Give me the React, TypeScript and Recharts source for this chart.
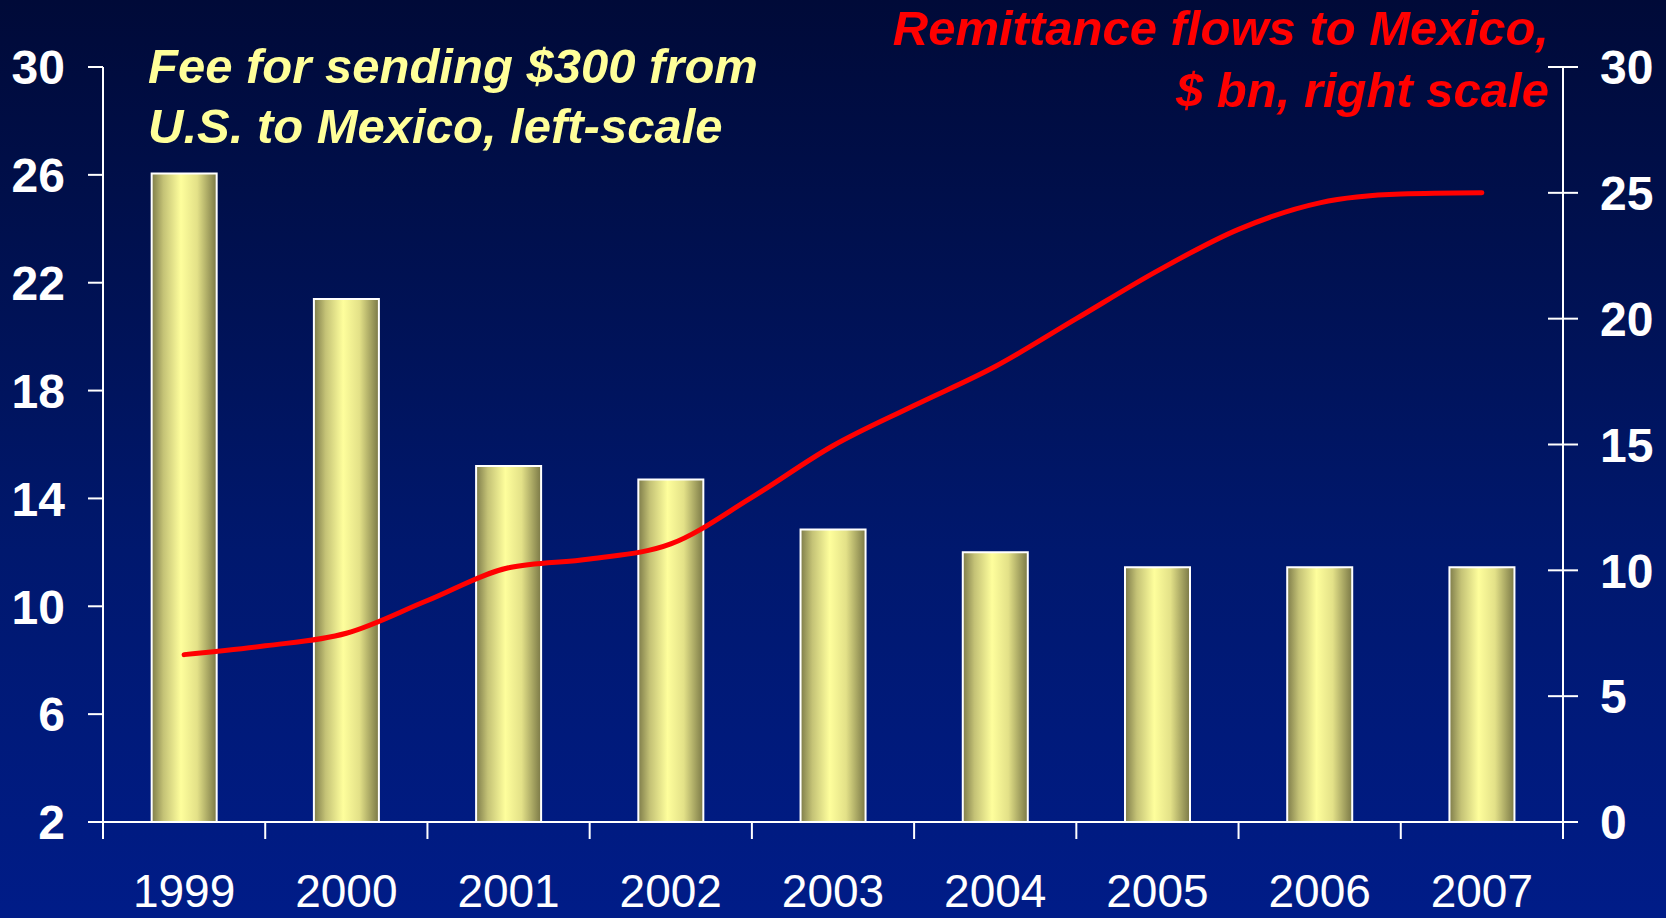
import React from 'react';
import { ComposedChart, Bar, Line, XAxis, YAxis } from 'recharts';

const years = ['1999', '2000', '2001', '2002', '2003', '2004', '2005', '2006', '2007'];
const feeValues = [26.05, 21.4, 15.2, 14.7, 12.85, 12.0, 11.45, 11.45, 11.45];

const remitYears = [1999, 1999.5, 2000, 2000.5, 2001, 2001.5, 2002, 2002.5, 2003, 2003.5, 2004, 2004.5, 2005, 2005.5, 2006, 2006.5, 2007];
const remitValues = [6.65, 7.0, 7.5, 8.8, 10.1, 10.45, 11.05, 12.9, 14.95, 16.55, 18.1, 20.0, 21.9, 23.55, 24.6, 24.95, 25.0];

const leftTicks = [2, 6, 10, 14, 18, 22, 26, 30];
const rightTicks = [0, 5, 10, 15, 20, 25, 30];

const leftTitle = ['Fee for sending $300 from', 'U.S. to Mexico, left-scale'];
const rightTitle = ['Remittance flows to Mexico,', '$ bn, right scale'];

const barData = years.map((year, i) => ({ year, fee: feeValues[i] }));
const lineData = remitYears.map((x, i) => ({ x, remit: remitValues[i] }));

const W = 1666;
const H = 918;
const LEFT_W = 103;
const RIGHT_W = 103;
const TOP = 67;
const XAXIS_H = 96;
const bandWidth = (W - LEFT_W - RIGHT_W) / years.length;
const FONT = '"Liberation Sans", Arial, Helvetica, sans-serif';

const LeftTick = (props: any) => {
  const { x, y, payload } = props;
  return (
    <g>
      <line x1={x - 15} x2={x} y1={y} y2={y} stroke="#fff" strokeWidth={2} />
      <text x={x - 38} y={y} dy="0.36em" textAnchor="end" fill="#fff" fontSize={48} fontWeight="bold" fontFamily={FONT}>
        {payload.value}
      </text>
    </g>
  );
};

const RightTick = (props: any) => {
  const { x, y, payload } = props;
  return (
    <g>
      <line x1={x - 15} x2={x + 15} y1={y} y2={y} stroke="#fff" strokeWidth={2} />
      <text x={x + 37} y={y} dy="0.36em" textAnchor="start" fill="#fff" fontSize={48} fontWeight="bold" fontFamily={FONT}>
        {payload.value}
      </text>
    </g>
  );
};

const XTick = (props: any) => {
  const { x, y, payload, index } = props;
  return (
    <g>
      <line x1={x - bandWidth / 2} x2={x - bandWidth / 2} y1={y} y2={y + 17} stroke="#fff" strokeWidth={2} />
      {index === years.length - 1 && (
        <line x1={x + bandWidth / 2} x2={x + bandWidth / 2} y1={y} y2={y + 17} stroke="#fff" strokeWidth={2} />
      )}
      <text x={x} y={y + 85} textAnchor="middle" fill="#fff" fontSize={46} fontFamily={FONT}>
        {payload.value}
      </text>
    </g>
  );
};

export default function App() {
  return (
    <div
      style={{
        position: 'absolute',
        left: 0,
        top: 0,
        width: W,
        height: H,
        overflow: 'hidden',
        background: 'linear-gradient(to bottom, #000a38 0%, #001152 30%, #00186e 60%, #001c88 100%)',
      }}
    >
      <ComposedChart width={W} height={H} data={barData} margin={{ top: TOP, right: 0, bottom: 0, left: 0 }} barCategoryGap="30%">
        <defs>
          <linearGradient id="barGrad" x1="0" y1="0" x2="1" y2="0">
            <stop offset="0%" stopColor="#7e7c4a" />
            <stop offset="18%" stopColor="#c4c276" />
            <stop offset="45%" stopColor="#fefe9c" />
            <stop offset="70%" stopColor="#e3e188" />
            <stop offset="100%" stopColor="#7a7846" />
          </linearGradient>
        </defs>
        <XAxis
          xAxisId="cat"
          dataKey="year"
          height={XAXIS_H}
          interval={0}
          axisLine={{ stroke: '#fff', strokeWidth: 2 }}
          tickLine={false}
          tickSize={0}
          tickMargin={0}
          tick={<XTick />}
        />
        <XAxis xAxisId="num" type="number" dataKey="x" domain={[1998.5, 2007.5]} hide />
        <YAxis
          yAxisId="left"
          orientation="left"
          width={LEFT_W}
          domain={[2, 30]}
          ticks={leftTicks}
          interval={0}
          axisLine={{ stroke: '#fff', strokeWidth: 2 }}
          tickLine={false}
          tickSize={0}
          tickMargin={0}
          tick={<LeftTick />}
        />
        <YAxis
          yAxisId="right"
          orientation="right"
          width={RIGHT_W}
          domain={[0, 30]}
          ticks={rightTicks}
          interval={0}
          axisLine={{ stroke: '#fff', strokeWidth: 2 }}
          tickLine={false}
          tickSize={0}
          tickMargin={0}
          tick={<RightTick />}
        />
        <Bar
          xAxisId="cat"
          yAxisId="left"
          dataKey="fee"
          fill="url(#barGrad)"
          stroke="#ffffff"
          strokeWidth={2}
          isAnimationActive={false}
        />
        <Line
          xAxisId="num"
          yAxisId="right"
          data={lineData}
          dataKey="remit"
          type="monotone"
          stroke="#ff0000"
          strokeWidth={5}
          strokeLinecap="round"
          strokeLinejoin="round"
          dot={false}
          activeDot={false}
          isAnimationActive={false}
        />
      </ComposedChart>
      <svg width={W} height={H} style={{ position: 'absolute', left: 0, top: 0, pointerEvents: 'none' }}>
        <g fontFamily={FONT} fontSize={49} fontWeight="bold" fontStyle="italic">
          <text x={148} y={83} fill="#ffff99">{leftTitle[0]}</text>
          <text x={148} y={143} fill="#ffff99">{leftTitle[1]}</text>
          <text x={1549} y={45} fill="#ff0000" textAnchor="end">{rightTitle[0]}</text>
          <text x={1549} y={107} fill="#ff0000" textAnchor="end">{rightTitle[1]}</text>
        </g>
      </svg>
    </div>
  );
}
